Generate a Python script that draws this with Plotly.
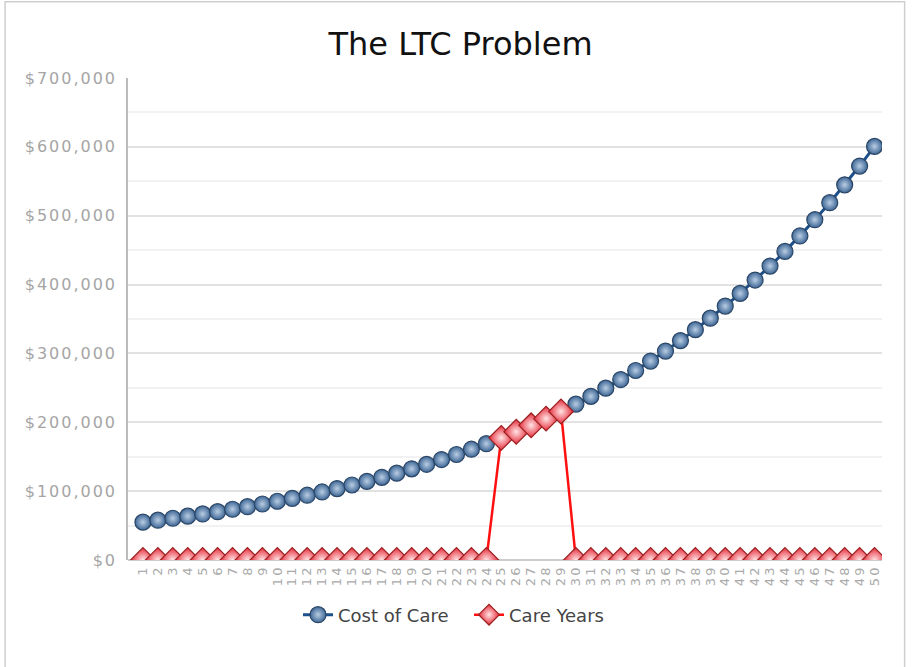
import plotly.graph_objects as go

years = list(range(1, 51))
cost_of_care = [55000, 57800, 60600, 63700, 66900, 70200, 73700, 77400, 81300, 85300,
                89600, 94100, 98800, 103700, 108900, 114300, 120100, 126100, 132400, 139000,
                145900, 153200, 160900, 168900, 177400, 186200, 195600, 205300, 215600, 226400,
                237700, 249600, 262100, 275200, 288900, 303400, 318600, 334500, 351200, 368800,
                387200, 406600, 426900, 448200, 470600, 494200, 518900, 544800, 572100, 600700]
care_years = [0] * 24 + [177400, 186200, 195600, 205300, 215600] + [0] * 21
y_ticks = [0, 100000, 200000, 300000, 400000, 500000, 600000, 700000]
y_labels = ["$0", "$100,000", "$200,000", "$300,000", "$400,000", "$500,000", "$600,000", "$700,000"]

fig = go.Figure()
fig.add_trace(go.Scatter(
    x=years, y=cost_of_care, name="Cost of Care", mode="lines+markers",
    line=dict(color="#1d4f8a", width=3),
    marker=dict(symbol="circle", size=16, color="#3e6796",
                gradient=dict(type="radial", color="#b9cde3"),
                line=dict(color="#2b4666", width=1.2)),
))
fig.add_trace(go.Scatter(
    x=years, y=care_years, name="Care Years", mode="lines+markers",
    line=dict(color="#ff1010", width=2.5),
    marker=dict(symbol="diamond", size=19, color="#e62a3a",
                gradient=dict(type="radial", color="#ffe4e4"),
                line=dict(color="#9a2020", width=1.2)),
))

fig.update_layout(
    width=921, height=667,
    margin=dict(l=128, r=39, t=78, b=107),
    paper_bgcolor="white", plot_bgcolor="white",
    title=dict(text="The LTC Problem", x=0.5, xanchor="center", y=0.934, yanchor="middle",
               font=dict(family="DejaVu Sans", size=32, color="#111111")),
    font=dict(family="DejaVu Sans"),
    showlegend=True,
    legend=dict(orientation="h", x=0.2255, xanchor="left", y=-0.114, yanchor="middle",
                font=dict(family="DejaVu Sans", size=18, color="#444444"),
                itemwidth=30, tracegroupgap=0, entrywidth=126),
    xaxis=dict(range=[0, 50.5], tickmode="array", tickvals=years, ticktext=[str(v) for v in years],
               tickangle=-90, tickfont=dict(size=13, color="#aaaaaa"), showgrid=False,
               zeroline=False, showline=False, ticks="", ticklabelstandoff=2),
    yaxis=dict(range=[0, 700000], tickmode="array", tickvals=y_ticks, ticktext=y_labels,
               tickfont=dict(size=16, color="#a5a5a5"), showgrid=True, gridcolor="#e2e2e2",
               gridwidth=1.5,
               minor=dict(dtick=50000, showgrid=True, gridcolor="#f2f2f2", gridwidth=1.5),
               zeroline=True, zerolinecolor="#cccccc", zerolinewidth=1.5,
               showline=True, linecolor="#bbbbbb", linewidth=1.5, ticks="", ticklabelstandoff=6),
)

# outer frame like the reference
fig.add_shape(type="rect", xref="paper", yref="paper", x0=-0.163, x1=1.03, y0=-0.3, y1=1.158,
              line=dict(color="#cfcfcf", width=1.5), fillcolor="rgba(0,0,0,0)", layer="below")

post = """
var st = document.createElement('style');
st.innerHTML = '.xtick text{letter-spacing:2px} .ytick text{letter-spacing:2px}';
document.head.appendChild(st);
document.body.style.margin = '0';
"""

fig.write_html("out.html", post_script=post, config={"displayModeBar": False})
